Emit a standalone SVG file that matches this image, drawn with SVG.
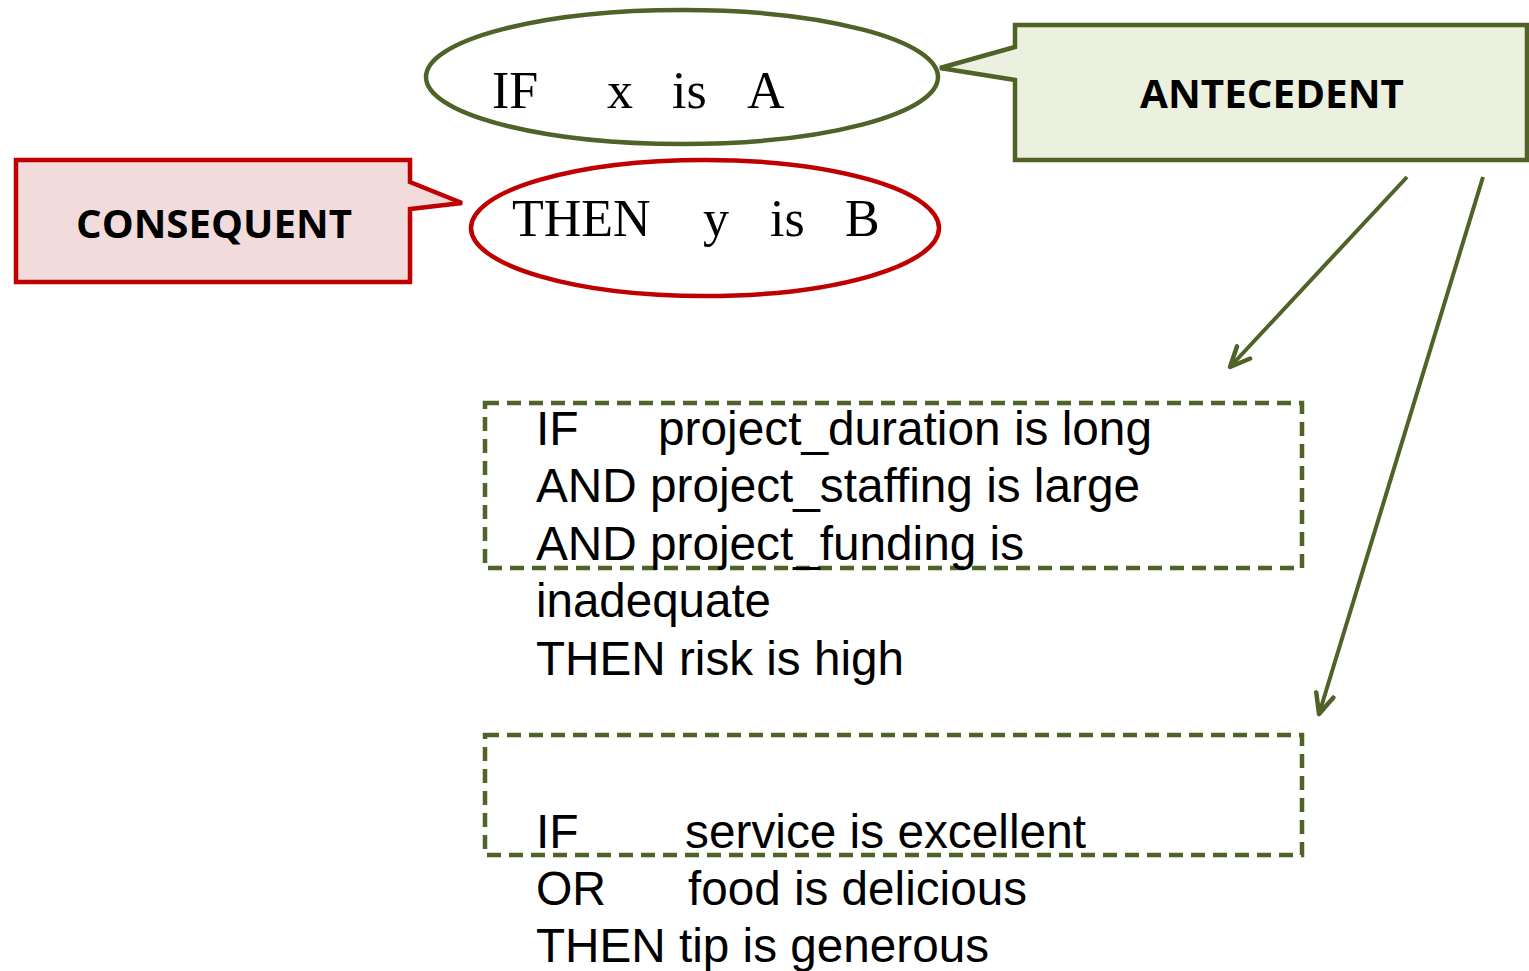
<svg xmlns="http://www.w3.org/2000/svg" width="1529" height="971" viewBox="0 0 1529 971">
<style>
.g{stroke:#4F6228;stroke-width:4.5;fill:none}
.r{stroke:#C00000;stroke-width:4.5;fill:none}
.serif{font-family:"Liberation Serif","Times New Roman",serif;font-size:52px;fill:#000}
.hdr{font-family:"Open Sans","Lato",sans-serif;font-weight:bold;font-size:40px;fill:#000}
.rule{font-family:"Liberation Sans",Arial,sans-serif;font-size:48px;fill:#000}
.dash{stroke:#4F6228;stroke-width:4.5;fill:none;stroke-dasharray:14 8}
</style>
<defs>
<marker id="arr" markerUnits="userSpaceOnUse" markerWidth="30" markerHeight="30" refX="22" refY="11" orient="auto" viewBox="0 0 30 22">
<path d="M2,2 L22,11 L2,20" fill="none" stroke="#4F6228" stroke-width="4.5" stroke-linecap="round" stroke-linejoin="round"/>
</marker>
</defs>
<rect width="1529" height="971" fill="#fff"/>

<g id="antecedent-ellipse">
<ellipse class="g" cx="682" cy="77" rx="256" ry="67"/>
<text class="serif" x="492" y="108">IF</text>
<text class="serif" x="607" y="108">x</text>
<text class="serif" x="672" y="108">is</text>
<text class="serif" x="747" y="108">A</text>
</g>

<g id="consequent-ellipse">
<ellipse class="r" cx="705" cy="228" rx="234" ry="68"/>
<text class="serif" x="512" y="236">THEN</text>
<text class="serif" x="703" y="236">y</text>
<text class="serif" x="770" y="236">is</text>
<text class="serif" x="845" y="236">B</text>
</g>

<g id="antecedent-callout">
<path d="M1015,25 H1527 V160 H1015 V80 L940,68 L1015,47 Z" fill="#EBF1DE" stroke="#4F6228" stroke-width="4.5" stroke-linejoin="miter"/>
<text class="hdr" x="1140" y="108" textLength="264" lengthAdjust="spacingAndGlyphs">ANTECEDENT</text>
</g>

<g id="consequent-callout">
<path d="M16,160 H410 V182 L462,203 L410,209 V282 H16 Z" fill="#F2DCDB" stroke="#C00000" stroke-width="4.5" stroke-linejoin="miter"/>
<text class="hdr" x="76" y="238" textLength="276" lengthAdjust="spacingAndGlyphs">CONSEQUENT</text>
</g>

<g id="connectors">
<line x1="1407" y1="177" x2="1230" y2="367" stroke="#4F6228" stroke-width="4" marker-end="url(#arr)"/>
<line x1="1483" y1="177" x2="1319" y2="714" stroke="#4F6228" stroke-width="4" marker-end="url(#arr)"/>
</g>

<g id="rule1">
<rect class="dash" x="485" y="403" width="817" height="165"/>
<text class="rule" x="536" y="445">IF</text>
<text class="rule" x="658" y="445" textLength="494" lengthAdjust="spacingAndGlyphs">project_duration is long</text>
<text class="rule" x="536" y="502" textLength="604" lengthAdjust="spacingAndGlyphs">AND project_staffing is large</text>
<text class="rule" x="536" y="560" textLength="488" lengthAdjust="spacingAndGlyphs">AND project_funding is</text>
<text class="rule" x="536" y="617" textLength="235" lengthAdjust="spacingAndGlyphs">inadequate</text>
<text class="rule" x="536" y="675" textLength="368" lengthAdjust="spacingAndGlyphs">THEN risk is high</text>
</g>

<g id="rule2">
<rect class="dash" x="485" y="735" width="817" height="120"/>
<text class="rule" x="536" y="848">IF</text>
<text class="rule" x="685" y="848" textLength="401" lengthAdjust="spacingAndGlyphs">service is excellent</text>
<text class="rule" x="536" y="905" textLength="70" lengthAdjust="spacingAndGlyphs">OR</text>
<text class="rule" x="688" y="905" textLength="339" lengthAdjust="spacingAndGlyphs">food is delicious</text>
<text class="rule" x="536" y="962" textLength="453" lengthAdjust="spacingAndGlyphs">THEN tip is generous</text>
</g>
</svg>
